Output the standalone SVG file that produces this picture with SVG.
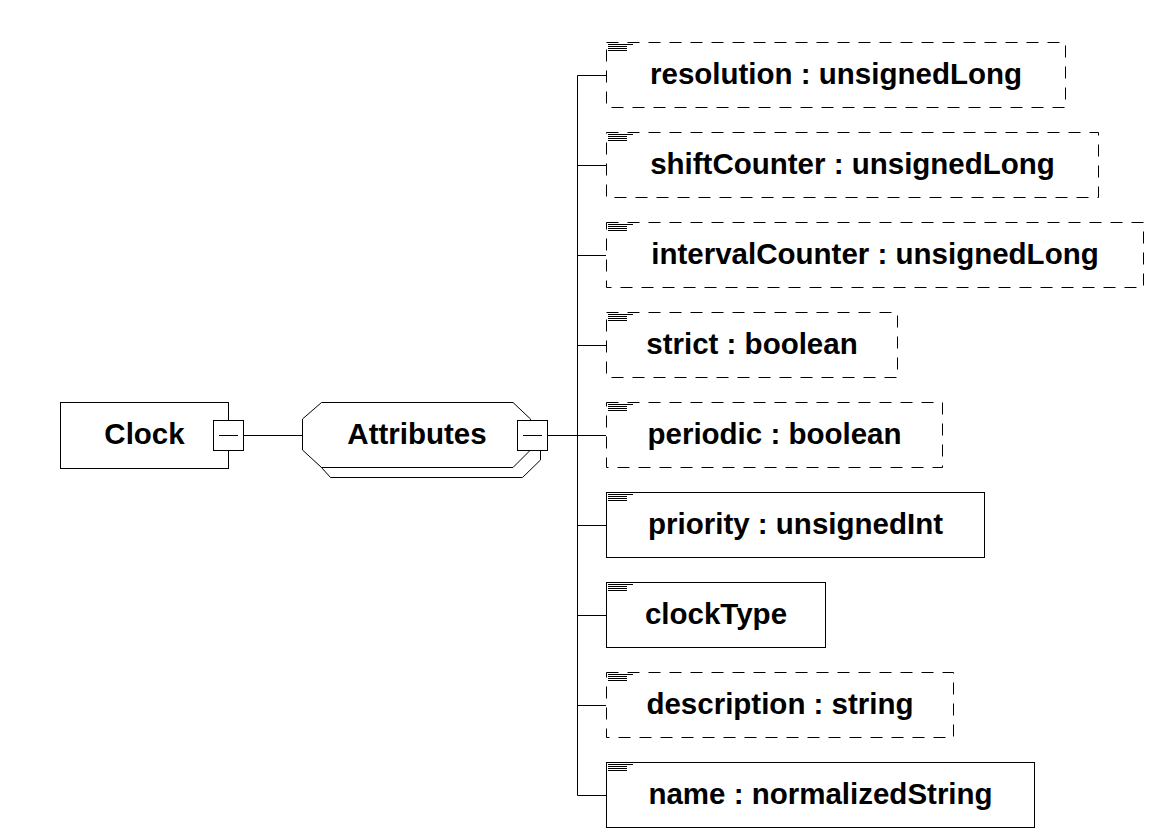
<svg xmlns="http://www.w3.org/2000/svg" width="1173" height="840" viewBox="0 0 1173 840">
<style>
  .bg{fill:#ffffff}
  .box{fill:#ffffff;stroke:#000000;stroke-width:1}
  .opt{stroke-dasharray:12,9}
  .ln{stroke:#000000;stroke-width:1;fill:none}
  .t{font-family:"Liberation Sans",Arial,sans-serif;font-weight:bold;font-size:29.5px;fill:#000000;text-anchor:middle}
</style>
<defs>
  <g id="icon">
    <path d="M2 2.5H27M2 4.5H21M2 6.5H21M2 8.5H21" stroke="#000" stroke-width="1" fill="none"/>
  </g>
</defs>
<rect class="bg" x="0" y="0" width="1173" height="840"/>

<g id="connectors">
  <path class="ln" d="M243.5 435.5H303"/>
  <path class="ln" d="M547.5 435.5H606"/>
  <path class="ln" d="M577.5 75.5V795.5"/>
  <path class="ln" d="M577.5 75.5H606M577.5 165.5H606M577.5 255.5H606M577.5 345.5H606M577.5 525.5H606M577.5 615.5H606M577.5 705.5H606M577.5 795.5H606"/>
</g>

<g id="clock">
  <rect class="box" x="60.5" y="402.5" width="168" height="66"/>
  <text class="t" x="144.5" y="444">Clock</text>
  <rect class="box" x="213.5" y="420.5" width="30" height="30"/>
  <path class="ln" d="M219 435.5H238"/>
</g>

<g id="attributes">
  <polygon class="box" points="312.5,429 330.5,412.5 522,412.5 540.5,429 540.5,460 522.5,477.5 330.5,477.5 312.5,457.5"/>
  <polygon class="box" points="302.5,419 321.5,402.5 513,402.5 530.5,419 530.5,450 513,467.5 321.5,467.5 302.5,450"/>
  <text class="t" x="417" y="444">Attributes</text>
  <rect class="box" x="517.5" y="420.5" width="30" height="30"/>
  <path class="ln" d="M523 435.5H542"/>
</g>

<g id="resolution">
  <rect class="box opt" x="606.5" y="42.5" width="459" height="65"/>
  <use href="#icon" x="606" y="42"/>
  <text class="t" x="836" y="84">resolution : unsignedLong</text>
</g>
<g id="shiftCounter">
  <rect class="box opt" x="606.5" y="132.5" width="492" height="65"/>
  <use href="#icon" x="606" y="132"/>
  <text class="t" x="852.5" y="174">shiftCounter : unsignedLong</text>
</g>
<g id="intervalCounter">
  <rect class="box opt" x="606.5" y="222.5" width="537" height="65"/>
  <use href="#icon" x="606" y="222"/>
  <text class="t" x="875" y="264">intervalCounter : unsignedLong</text>
</g>
<g id="strict">
  <rect class="box opt" x="606.5" y="312.5" width="291" height="65"/>
  <use href="#icon" x="606" y="312"/>
  <text class="t" x="752" y="354">strict : boolean</text>
</g>
<g id="periodic">
  <rect class="box opt" x="606.5" y="402.5" width="336" height="65"/>
  <use href="#icon" x="606" y="402"/>
  <text class="t" x="774.5" y="444">periodic : boolean</text>
</g>
<g id="priority">
  <rect class="box" x="606.5" y="492.5" width="378" height="65"/>
  <use href="#icon" x="606" y="492"/>
  <text class="t" x="795.5" y="534">priority : unsignedInt</text>
</g>
<g id="clockType">
  <rect class="box" x="606.5" y="582.5" width="219" height="65"/>
  <use href="#icon" x="606" y="582"/>
  <text class="t" x="716" y="624">clockType</text>
</g>
<g id="description">
  <rect class="box opt" x="606.5" y="672.5" width="347" height="65"/>
  <use href="#icon" x="606" y="672"/>
  <text class="t" x="780" y="714">description : string</text>
</g>
<g id="name">
  <rect class="box" x="606.5" y="762.5" width="428" height="65"/>
  <use href="#icon" x="606" y="762"/>
  <text class="t" x="820.5" y="804">name : normalizedString</text>
</g>
</svg>
